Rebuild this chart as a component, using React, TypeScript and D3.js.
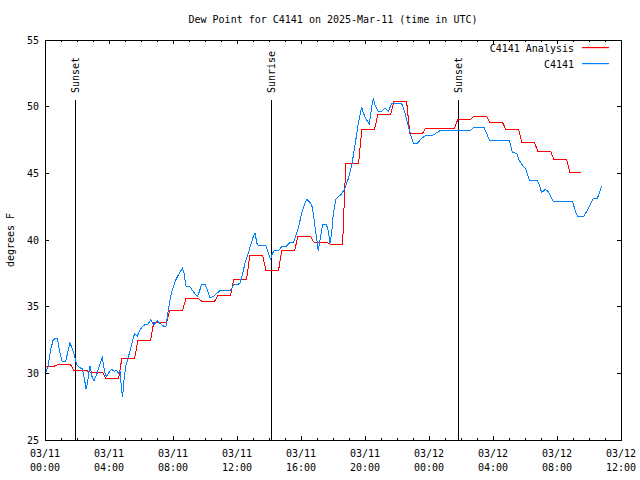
import React from 'react';
import * as d3 from 'd3';

const title = 'Dew Point for C4141 on 2025-Mar-11 (time in UTC)';
const yAxisLabel = 'degrees F';
const seriesNames = ['C4141 Analysis', 'C4141'];
const seriesColors = ['#ff0000', '#0080ff'];
const startTime = Date.UTC(2025, 2, 11, 0, 0);
const endTime = Date.UTC(2025, 2, 12, 12, 0);
const yTicks = [25, 30, 35, 40, 45, 50, 55];

// Analysis: one value per hour starting at 00 UTC
const analysisValues = [
  30.55, 30.65, 30.2, 30.1, 29.6, 31.1, 32.45, 33.85, 34.7, 35.6,
  35.4, 35.85, 37.05, 38.85, 37.75, 39.2, 40.25, 39.85, 39.7, 45.75,
  48.3, 49.4, 50.4, 48.0, 48.4, 48.4, 49.05, 49.3, 48.8, 48.3,
  47.3, 46.65, 46.05, 45.1,
];
const analysisEndHour = 33.5;

// Observations: hours since 00 UTC and values
const obsHours = [
  0.05, 0.19, 0.35, 0.52, 0.77, 0.94, 1.08, 1.29, 1.5, 1.56, 1.77, 1.98, 2.23, 2.33, 2.48, 2.56, 2.65, 2.81, 2.96, 3.06,
  3.27, 3.48, 3.58, 3.73, 3.83, 4.04, 4.15, 4.35, 4.44, 4.6, 4.69, 4.79, 4.85, 4.94, 5.04, 5.19, 5.35, 5.6, 5.77, 5.94,
  6.15, 6.44, 6.6, 6.81, 7.02, 7.23, 7.4, 7.56, 7.71, 7.81, 7.92, 8.125, 8.33, 8.58, 8.69, 8.81, 9.06, 9.27, 9.52, 9.65,
  9.79, 10.0, 10.1, 10.31, 10.52, 10.73, 10.94, 11.56, 11.67, 11.81, 11.98, 12.19, 12.35, 12.5, 12.71, 12.85, 13.02, 13.125, 13.27, 13.81,
  13.96, 14.1, 14.17, 14.31, 14.58, 14.79, 15.06, 15.31, 15.52, 15.625, 15.83, 16.04, 16.21, 16.35, 16.52, 16.67, 16.77, 16.875, 16.98, 17.08,
  17.19, 17.29, 17.35, 17.6, 17.71, 17.81, 17.92, 18.02, 18.19, 18.54, 18.75, 18.96, 19.17, 19.375, 19.58, 19.79, 19.9, 20.1, 20.27, 20.42,
  20.52, 20.625, 20.83, 21.04, 21.25, 21.46, 21.67, 22.29, 22.5, 22.71, 22.92, 23.02, 23.27, 23.54, 23.75, 24.27, 24.69, 26.56, 26.81, 27.44,
  27.6, 27.77, 29.02, 29.1, 29.21, 29.48, 29.63, 29.79, 30.0, 30.1, 30.27, 30.77, 30.9, 31.04, 31.25, 31.46, 31.6, 31.77, 32.98, 33.125,
  33.27, 33.69, 33.85, 34.06, 34.27, 34.52, 34.64, 34.79,
];
const obsValues = [
  30.1, 30.5, 31.75, 32.55, 32.63, 31.5, 30.87, 30.87, 32.0, 32.3, 31.63, 30.63, 30.38, 30.38, 29.5, 28.8, 29.25, 30.55, 29.63, 29.43,
  30.05, 30.88, 31.2, 30.13, 29.75, 30.13, 30.3, 30.13, 30.25, 30.0, 30.13, 28.75, 28.2, 29.5, 30.5, 31.13, 31.88, 33.0, 32.8, 33.25,
  33.6, 33.7, 34.0, 33.63, 33.95, 33.7, 33.55, 33.55, 34.75, 35.5, 36.13, 36.88, 37.38, 37.88, 37.5, 36.55, 36.5, 36.13, 35.75, 36.13,
  36.68, 36.68, 36.38, 35.68, 35.75, 36.0, 36.2, 36.2, 36.38, 36.7, 36.63, 36.75, 37.5, 38.25, 39.0, 39.63, 40.25, 40.5, 39.63, 39.58,
  39.0, 38.55, 38.88, 39.18, 39.18, 39.5, 39.5, 39.8, 39.8, 40.13, 40.88, 42.0, 42.63, 43.05, 42.88, 42.63, 42.0, 41.0, 40.13, 39.2,
  40.0, 40.75, 41.13, 41.13, 40.63, 39.75, 40.6, 42.0, 43.1, 43.45, 43.9, 44.6, 45.6, 47.1, 48.75, 50.0, 49.5, 49.0, 48.7, 50.0,
  50.63, 50.13, 49.63, 49.63, 49.88, 49.63, 50.25, 50.25, 49.5, 48.5, 47.63, 47.25, 47.25, 47.63, 47.8, 47.88, 48.2, 48.2, 48.45, 48.45,
  48.0, 47.5, 47.5, 47.13, 46.58, 46.5, 46.0, 45.7, 45.38, 45.13, 44.5, 44.5, 44.13, 43.55, 43.8, 43.63, 43.3, 42.88, 42.88, 42.25,
  41.8, 41.8, 42.13, 42.63, 43.13, 43.13, 43.5, 44.05,
];

const sunLabels = ['Sunset', 'Sunrise', 'Sunset'];
const sunHours = [1.9, 14.15, 25.83];

const W = 640;
const H = 480;
const M = { left: 45, right: 19, top: 40, bottom: 40 };
const FONT = '"DejaVu Sans Mono", monospace';
const HOUR = 3600 * 1000;

export default function App() {
  const x = d3.scaleUtc().domain([new Date(startTime), new Date(endTime)]).range([M.left, W - M.right]);
  const y = d3.scaleLinear().domain([25, 55]).range([H - M.bottom, M.top]);
  const t = (h: number) => new Date(startTime + h * HOUR);

  const analysisPts: [number, number][] = [];
  analysisValues.forEach((v, k) => {
    const a = k === 0 ? 0 : k - 0.2;
    const b = Math.min(k + 0.6, analysisEndHour);
    analysisPts.push([a, v], [b, v]);
  });
  const obsPts: [number, number][] = obsHours.map((h, i) => [h, obsValues[i]]);

  const line = d3
    .line<[number, number]>()
    .x((d) => x(t(d[0])))
    .y((d) => y(d[1]));

  const majorX = x.ticks(d3.utcHour.every(4) as any);
  const minorX = x.ticks(d3.utcHour.every(1) as any);
  const fmtDate = d3.utcFormat('%m/%d');
  const fmtTime = d3.utcFormat('%H:%M');
  const x0 = M.left;
  const x1 = W - M.right;
  const y0 = H - M.bottom;
  const y1 = M.top;

  return (
    <svg
      width={W}
      height={H}
      style={{ position: 'absolute', left: 0, top: 0, background: '#fff' }}
      fontFamily={FONT}
      fontSize={10}
    >
      <rect x={0} y={0} width={W} height={H} fill="#fff" />
      <text x={(x0 + x1) / 2} y={19} textAnchor="middle" dominantBaseline="central">
        {title}
      </text>
      <text transform={`translate(10,${(y0 + y1) / 2}) rotate(-90)`} textAnchor="middle" dominantBaseline="central">
        {yAxisLabel}
      </text>

      <g shapeRendering="crispEdges" stroke="#000" strokeWidth={1}>
        {minorX.map((d, i) => (
          <g key={'mn' + i}>
            <line x1={x(d)} x2={x(d)} y1={y0} y2={y0 - 2} />
            <line x1={x(d)} x2={x(d)} y1={y1} y2={y1 + 2} />
          </g>
        ))}
        {majorX.map((d, i) => (
          <g key={'mj' + i}>
            <line x1={x(d)} x2={x(d)} y1={y0} y2={y0 - 4} />
            <line x1={x(d)} x2={x(d)} y1={y1} y2={y1 + 4} />
          </g>
        ))}
        {yTicks.map((v) => (
          <g key={'yt' + v}>
            <line x1={x0} x2={x0 + 4} y1={y(v)} y2={y(v)} />
            <line x1={x1} x2={x1 - 4} y1={y(v)} y2={y(v)} />
          </g>
        ))}
      </g>

      {yTicks.map((v) => (
        <text key={'yl' + v} x={39} y={y(v)} textAnchor="end" dominantBaseline="central">
          {v}
        </text>
      ))}
      {majorX.map((d, i) => (
        <g key={'xl' + i}>
          <text x={x(d)} y={453} textAnchor="middle" dominantBaseline="central">
            {fmtDate(d)}
          </text>
          <text x={x(d)} y={467} textAnchor="middle" dominantBaseline="central">
            {fmtTime(d)}
          </text>
        </g>
      ))}

      {sunHours.map((h, i) => (
        <g key={'sun' + i}>
          <line
            x1={x(t(h))}
            x2={x(t(h))}
            y1={100}
            y2={y0}
            stroke="#000"
            strokeWidth={1}
            shapeRendering="crispEdges"
          />
          <text
            transform={`translate(${x(t(h))},93) rotate(-90)`}
            textAnchor="start"
            dominantBaseline="central"
          >
            {sunLabels[i]}
          </text>
        </g>
      ))}

      <path d={line(analysisPts) || ''} fill="none" stroke={seriesColors[0]} strokeWidth={1} shapeRendering="crispEdges" />
      <path d={line(obsPts) || ''} fill="none" stroke={seriesColors[1]} strokeWidth={1} shapeRendering="crispEdges" />

      <rect x={x0} y={y1} width={x1 - x0} height={y0 - y1} fill="none" stroke="#000" strokeWidth={1} shapeRendering="crispEdges" />

      {seriesNames.map((name, i) => (
        <g key={'lg' + i}>
          <text x={574} y={48.5 + i * 16} textAnchor="end" dominantBaseline="central">
            {name}
          </text>
          <rect x={582} y={47 + i * 16} width={27} height={1.2} fill={seriesColors[i]} />
        </g>
      ))}
    </svg>
  );
}
